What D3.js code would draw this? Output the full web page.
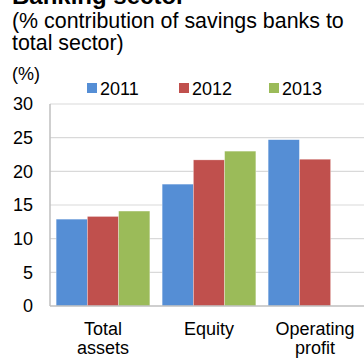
<!DOCTYPE html>
<html>
<head>
<meta charset="utf-8">
<script src="https://cdn.jsdelivr.net/npm/d3@7"></script>
<style>
  body { margin: 0; background: #fff; overflow: hidden; }
  svg { display: block; font-family: "Liberation Sans", Arial, sans-serif; }
</style>
</head>
<body>
<div class="chart"></div>
<script>
const categories = [["Total", "assets"], ["Equity"], ["Operating", "profit"]];
const years = ["2011", "2012", "2013"];
const values2011 = [12.9, 18.1, 24.7];
const values2012 = [13.3, 21.7, 21.8];
const values2013 = [14.1, 23.0, null];
const yTicks = [0, 5, 10, 15, 20, 25, 30];
const colors = ["#558ed5", "#c0504d", "#9bbb59"];

const series = [values2011, values2012, values2013];

const width = 364, height = 358;
const margin = ({top: 104, right: -4, bottom: 52, left: 50});

const svg = d3.select('.chart').append('svg')
    .attr("width", width)
    .attr("height", height);

const xScale = d3.scaleBand()
    .domain(d3.range(categories.length))
    .range([margin.left, width - margin.right])
    .paddingInner(0.116)
    .paddingOuter(0.058);

const xInner = d3.scaleBand()
    .domain(d3.range(years.length))
    .range([0, xScale.bandwidth()]);

const yScale = d3.scaleLinear()
    .domain([0, 30])
    .range([height - margin.bottom, margin.top]);

// gridlines
svg.append("g")
    .selectAll("line")
    .data(yTicks.filter(d => d > 0))
    .join("line")
    .attr("x1", margin.left)
    .attr("x2", width)
    .attr("y1", d => yScale(d))
    .attr("y2", d => yScale(d))
    .attr("stroke", "#d9d9d9")
    .attr("stroke-width", 1.2);

// bars
series.forEach((vals, i) => {
  svg.append("g")
    .selectAll("rect")
    .data(vals.map((v, j) => ({v, j})).filter(d => d.v != null))
    .join("rect")
    .attr("x", d => xScale(d.j) + xInner(i))
    .attr("width", xInner.bandwidth())
    .attr("y", d => yScale(d.v))
    .attr("height", d => yScale(0) - yScale(d.v))
    .attr("fill", colors[i])
    .attr("stroke", "#fff")
    .attr("stroke-opacity", 0.5)
    .attr("stroke-width", 0.6);
});

// axes lines
svg.append("line")
    .attr("x1", margin.left).attr("x2", margin.left)
    .attr("y1", yScale(30)).attr("y2", yScale(0))
    .attr("stroke", "#bfbfbf").attr("stroke-width", 1.5);
svg.append("line")
    .attr("x1", margin.left).attr("x2", width)
    .attr("y1", yScale(0)).attr("y2", yScale(0))
    .attr("stroke", "#bfbfbf").attr("stroke-width", 1.5);

// y tick labels
svg.append("g")
    .selectAll("text")
    .data(yTicks)
    .join("text")
    .attr("x", 33)
    .attr("y", d => yScale(d))
    .attr("dy", "0.36em")
    .attr("text-anchor", "end")
    .attr("font-size", "18px")
    .attr("fill", "#000")
    .text(d => d);

// x labels
const xl = svg.append("g")
    .selectAll("text")
    .data(categories)
    .join("text")
    .attr("x", (d, i) => xScale(i) + xScale.bandwidth() / 2)
    .attr("y", 335)
    .attr("text-anchor", "middle")
    .attr("font-size", "18px");
xl.selectAll("tspan")
    .data(d => d)
    .join("tspan")
    .attr("x", function() { return this.parentNode.getAttribute("x"); })
    .attr("dy", (d, i) => i === 0 ? 0 : 19)
    .text(d => d);

// titles
svg.append("text")
    .attr("x", 12).attr("y", 4)
    .attr("font-size", "24px").attr("font-weight", "bold")
    .text("Banking sector");
svg.append("text")
    .attr("x", 12).attr("y", 28)
    .attr("font-size", "21.4px")
    .text("(% contribution of savings banks to");
svg.append("text")
    .attr("x", 12).attr("y", 50)
    .attr("font-size", "21.4px")
    .text("total sector)");
svg.append("text")
    .attr("x", 12).attr("y", 80)
    .attr("font-size", "18px")
    .text("(%)");

// legend
const legendX = [87, 179, 269];
const legend = svg.append("g")
    .selectAll("g")
    .data(years)
    .join("g")
    .attr("transform", (d, i) => `translate(${legendX[i]},83)`);
legend.append("rect")
    .attr("width", 10).attr("height", 10)
    .attr("fill", (d, i) => colors[i]);
legend.append("text")
    .attr("x", 13).attr("y", 12)
    .attr("font-size", "18px")
    .text(d => d);
</script>
</body>
</html>
